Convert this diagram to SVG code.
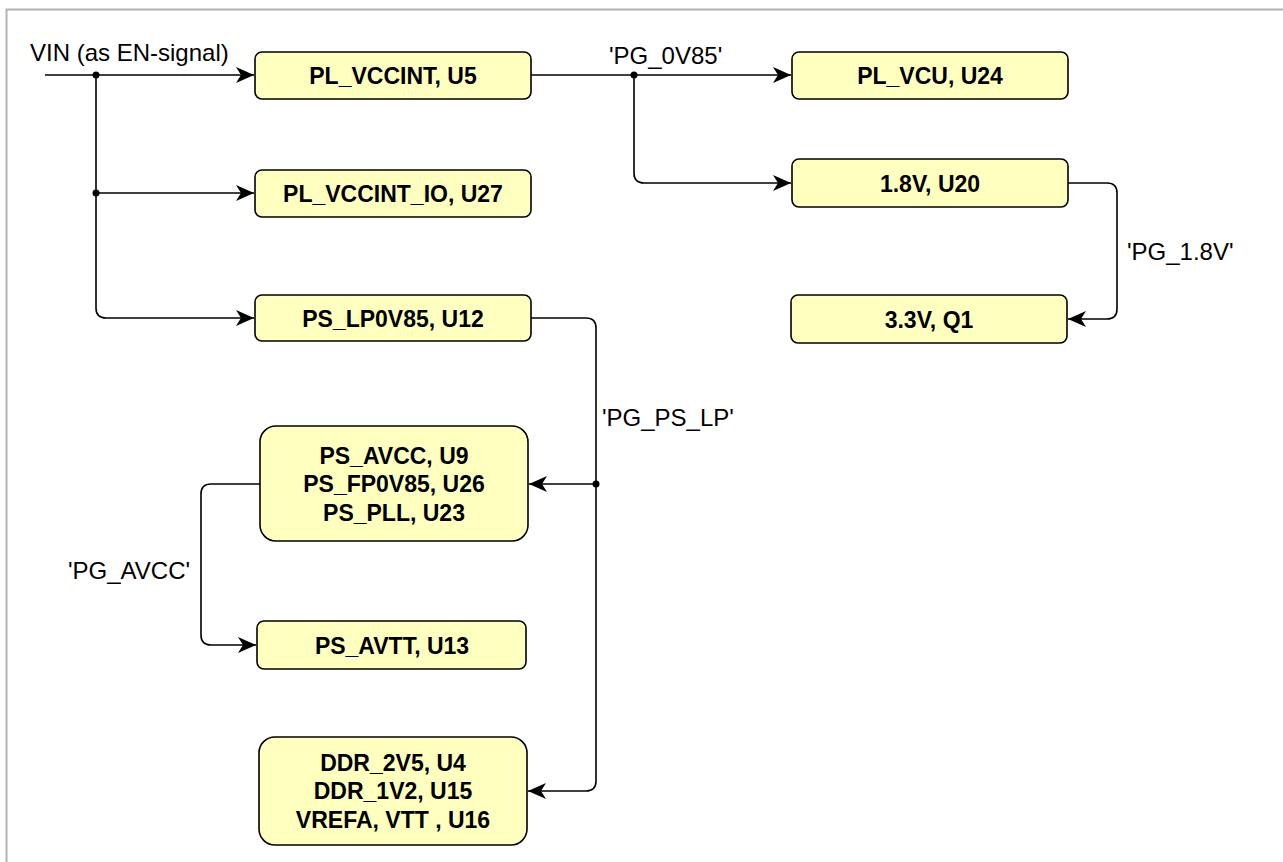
<svg xmlns="http://www.w3.org/2000/svg" width="1283" height="862" viewBox="0 0 1283 862">
<style>
.box{fill:#ffffc0;stroke:#000;stroke-width:1.6}
.nt{font-family:"Liberation Sans",Arial,sans-serif;font-size:23px;font-weight:bold;text-anchor:middle;fill:#000}
.lb{font-family:"Liberation Sans",Arial,sans-serif;font-size:24px;fill:#000}
.ln{fill:none;stroke:#000;stroke-width:1.6}
.dot{fill:#000}
</style>
<defs>
<marker id="arr" viewBox="0 0 20 20" refX="19" refY="10" markerWidth="20" markerHeight="20" markerUnits="userSpaceOnUse" orient="auto">
<path d="M1,2 L19,10 L1,18 L6,10 Z" fill="#000"/>
</marker>
</defs>
<rect width="1283" height="862" fill="#fff"/>
<path d="M6.5,862 V9.5 H1283" fill="none" stroke="#b3b3b3" stroke-width="2"/>

<g id="connectors">
<path class="ln" d="M45,75 H254" marker-end="url(#arr)"/>
<path class="ln" d="M96,75 V308 Q96,318 106,318 H254" marker-end="url(#arr)"/>
<path class="ln" d="M96,193 H254" marker-end="url(#arr)"/>
<path class="ln" d="M531,75 H791" marker-end="url(#arr)"/>
<path class="ln" d="M634,75 V173 Q634,183 644,183 H791" marker-end="url(#arr)"/>
<path class="ln" d="M1068,183 H1107 Q1117,183 1117,193 V309 Q1117,319 1107,319 H1068" marker-end="url(#arr)"/>
<path class="ln" d="M531,318 H586 Q596,318 596,328 V781 Q596,791 586,791 H528" marker-end="url(#arr)"/>
<path class="ln" d="M596,484 H529" marker-end="url(#arr)"/>
<path class="ln" d="M260,484 H211 Q201,484 201,494 V635 Q201,645 211,645 H256" marker-end="url(#arr)"/>
<circle class="dot" cx="96" cy="75" r="3.5"/>
<circle class="dot" cx="96" cy="193" r="3.5"/>
<circle class="dot" cx="634" cy="75" r="3.5"/>
<circle class="dot" cx="596" cy="484" r="3.5"/>
<text class="lb" x="30" y="61">VIN (as EN-signal)</text>
<text class="lb" x="609" y="64">'PG_0V85'</text>
<text class="lb" x="1127" y="260">'PG_1.8V'</text>
<text class="lb" x="602" y="426">'PG_PS_LP'</text>
<text class="lb" x="68" y="579">'PG_AVCC'</text>
</g>

<g id="n_pl_vccint"><rect class="box" x="255" y="52" width="276" height="47" rx="7"/><text class="nt" x="393" y="83.5">PL_VCCINT, U5</text></g>
<g id="n_pl_vccint_io"><rect class="box" x="255" y="170" width="276" height="47" rx="7"/><text class="nt" x="393" y="201.5">PL_VCCINT_IO, U27</text></g>
<g id="n_ps_lp0v85"><rect class="box" x="255" y="295" width="276" height="46" rx="7"/><text class="nt" x="393" y="326.5">PS_LP0V85, U12</text></g>
<g id="n_ps_avcc"><rect class="box" x="260" y="426" width="268" height="115" rx="16"/><text class="nt" x="394" y="463.5">PS_AVCC, U9</text><text class="nt" x="394" y="492">PS_FP0V85, U26</text><text class="nt" x="394" y="520.5">PS_PLL, U23</text></g>
<g id="n_ps_avtt"><rect class="box" x="257" y="621" width="269" height="48" rx="7"/><text class="nt" x="392" y="653.5">PS_AVTT, U13</text></g>
<g id="n_ddr"><rect class="box" x="259" y="737" width="268" height="108" rx="16"/><text class="nt" x="393" y="770.5">DDR_2V5, U4</text><text class="nt" x="393" y="799">DDR_1V2, U15</text><text class="nt" x="393" y="827.5">VREFA, VTT , U16</text></g>
<g id="n_pl_vcu"><rect class="box" x="792" y="52" width="276" height="47" rx="7"/><text class="nt" x="930" y="83.5">PL_VCU, U24</text></g>
<g id="n_1v8"><rect class="box" x="792" y="159" width="276" height="48" rx="7"/><text class="nt" x="930" y="191.5">1.8V, U20</text></g>
<g id="n_3v3"><rect class="box" x="791" y="295" width="276" height="48" rx="7"/><text class="nt" x="929" y="327.5">3.3V, Q1</text></g>
</svg>
